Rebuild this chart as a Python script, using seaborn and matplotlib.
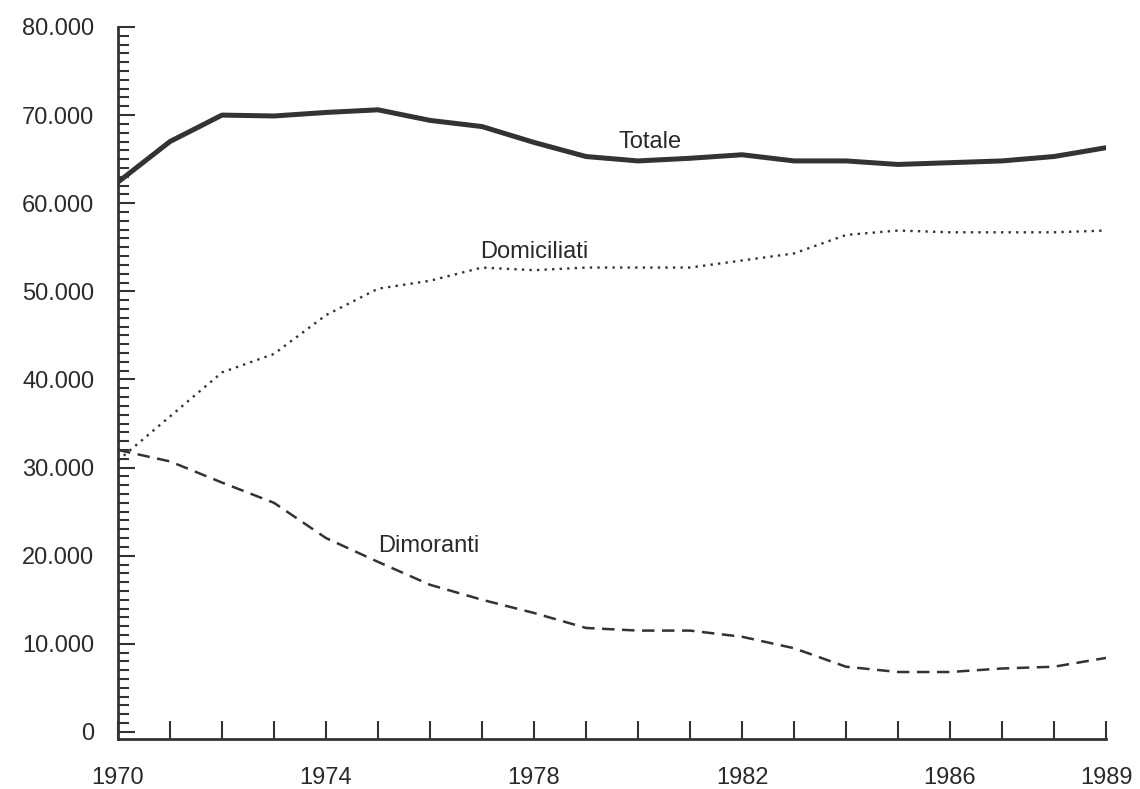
import numpy as np
import pandas as pd
import matplotlib
matplotlib.use("Agg")
import matplotlib.pyplot as plt
import seaborn as sns
from matplotlib.ticker import FuncFormatter, MultipleLocator

anni = list(range(1970, 1990))
totale = [62400, 67000, 70000, 69900, 70300, 70600, 69400, 68700, 66900, 65300,
          64800, 65100, 65500, 64800, 64800, 64400, 64600, 64800, 65300, 66300]
domiciliati = [30800, 35800, 40800, 42900, 47300, 50300, 51200, 52700, 52400, 52700,
               52700, 52700, 53500, 54300, 56400, 56900, 56700, 56700, 56700, 56900]
dimoranti = [32000, 30700, 28300, 26000, 22000, 19300, 16700, 15000, 13500, 11800,
             11500, 11500, 10800, 9500, 7400, 6800, 6800, 7200, 7400, 8400]
anni_etichette = [1970, 1974, 1978, 1982, 1986, 1989]

sns.set_theme(style="ticks")
plt.rcParams['font.family'] = ['Liberation Sans', 'DejaVu Sans']

col = "#333333"
testo = "#2a2a2a"
fig = plt.figure(figsize=(11.4, 7.89), dpi=100)
ax = fig.add_axes([0.1035, 0.0634, 0.8667, 0.9024])

sns.lineplot(x=anni, y=totale, ax=ax, color=col, linewidth=3.6)
sns.lineplot(x=anni, y=domiciliati, ax=ax, color=col, linewidth=1.7, linestyle=(0, (1, 2.2)))
sns.lineplot(x=anni, y=dimoranti, ax=ax, color=col, linewidth=1.8, linestyle=(0, (5, 3)))

ax.text(1979.63, 66300, "Totale", fontsize=17, color=testo, ha="left", va="baseline")
ax.text(1976.96, 53800, "Domiciliati", fontsize=17, color=testo, ha="left", va="baseline")
ax.text(1975.0, 20400, "Dimoranti", fontsize=17, color=testo, ha="left", va="baseline")

ax.set_xlim(1970, 1989)
ax.set_ylim(-800, 80000)
ax.xaxis.set_major_locator(MultipleLocator(1))
ax.xaxis.set_major_formatter(FuncFormatter(lambda v, p: str(int(round(v))) if int(round(v)) in anni_etichette else ""))
ax.set_yticks(list(range(0, 80001, 10000)))
ax.set_yticks(list(range(0, 80001, 1000)), minor=True)
ax.yaxis.set_major_formatter(FuncFormatter(lambda v, p: "0" if v == 0 else f"{int(v):,}".replace(",", ".")))

ax.tick_params(axis="x", direction="in", length=13, width=1.5, color=col, pad=20,
               labelsize=17, labelcolor=testo)
ax.tick_params(axis="y", which="major", direction="in", length=12, width=1.5, color=col, pad=17,
               labelsize=17, labelcolor=testo)
ax.tick_params(axis="y", which="minor", direction="in", length=8, width=1.5, color=col)

sns.despine(ax=ax)
for s in ["left", "bottom"]:
    ax.spines[s].set_linewidth(2)
    ax.spines[s].set_color(col)

fig.savefig("out.png", dpi=100)
